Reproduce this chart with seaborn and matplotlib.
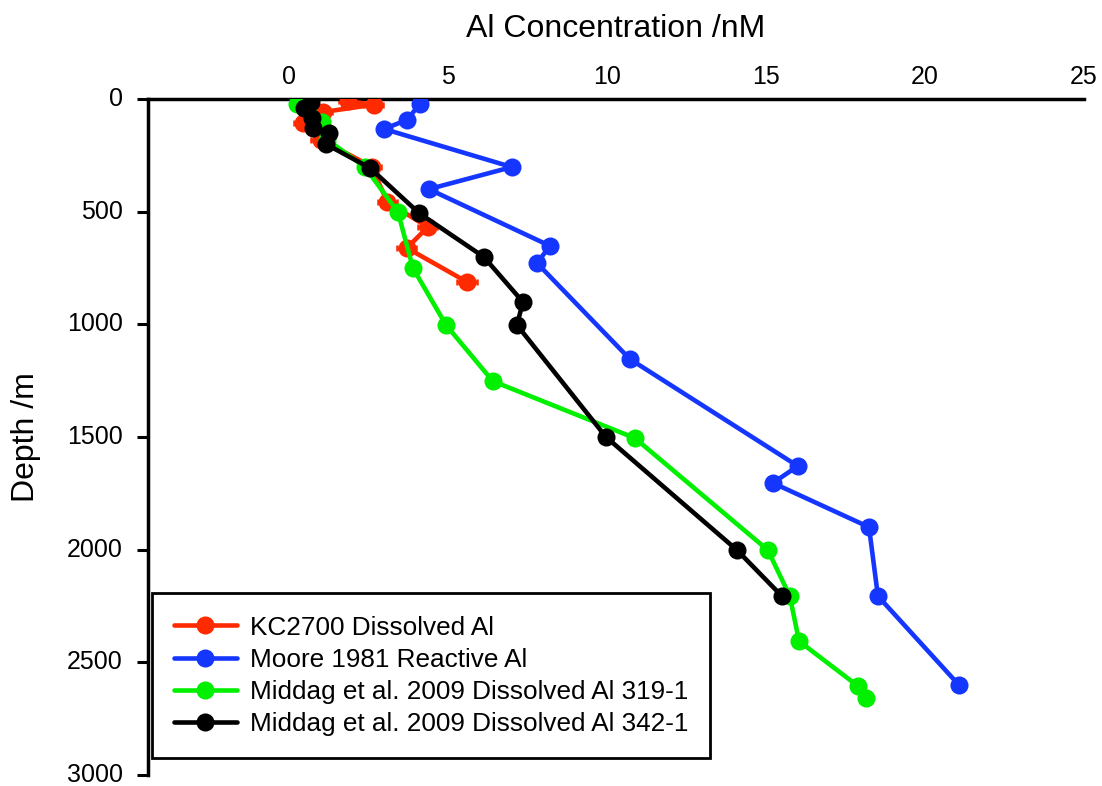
import matplotlib
matplotlib.use("Agg")
import matplotlib.pyplot as plt
import seaborn as sns
import pandas as pd
import numpy as np
from matplotlib.lines import Line2D

# ---- data ----
kc_conc = [1.86, 2.67, 1.07, 0.45, 1.0, 2.6, 3.1, 4.37, 3.71, 5.6]
kc_depth = [10, 25, 58, 107, 180, 300, 458, 568, 661, 812]
kc_err = [0.3, 0.3, 0.3, 0.3, 0.3, 0.3, 0.3, 0.3, 0.3, 0.3]

moore_conc = [4.12, 3.71, 2.99, 7.01, 4.40, 8.21, 7.80, 10.72, 16.0, 15.22, 18.24, 18.52, 21.07]
moore_depth = [22, 93, 133, 302, 400, 652, 728, 1154, 1629, 1704, 1900, 2206, 2601]

m319_conc = [0.25, 0.6, 1.05, 1.2, 2.39, 3.43, 3.9, 4.94, 6.41, 10.88, 15.06, 15.75, 16.04, 17.89, 18.14]
m319_depth = [20, 50, 100, 180, 302, 502, 750, 1003, 1252, 1505, 2002, 2206, 2406, 2605, 2659]

m342_conc = [0.69, 0.47, 0.72, 0.75, 1.26, 1.16, 2.55, 4.09, 6.13, 7.36, 7.17, 9.97, 14.09, 15.5]
m342_depth = [13, 40, 85, 130, 150, 200, 306, 506, 701, 901, 1003, 1500, 2002, 2206]

labels = ["KC2700 Dissolved Al", "Moore 1981 Reactive Al",
          "Middag et al. 2009 Dissolved Al 319-1", "Middag et al. 2009 Dissolved Al 342-1"]
colors = ["#FF2A00", "#1436FF", "#00F000", "#000000"]

xticks = [0, 5, 10, 15, 20, 25]
yticks = [0, 500, 1000, 1500, 2000, 2500, 3000]

rows = []
for lab, cs, ds in zip(labels, [kc_conc, moore_conc, m319_conc, m342_conc],
                       [kc_depth, moore_depth, m319_depth, m342_depth]):
    for i, (c, d) in enumerate(zip(cs, ds)):
        rows.append({"series": lab, "conc": c, "depth": d, "order": i})
df = pd.DataFrame(rows)

sns.set_style("white")
plt.rcParams['font.family'] = ['Liberation Sans', 'DejaVu Sans']
plt.rcParams['text.color'] = 'black'
plt.rcParams['axes.labelcolor'] = 'black'
plt.rcParams['xtick.color'] = 'black'
plt.rcParams['ytick.color'] = 'black'

LW = 3.3
MS = 13

fig = plt.figure(figsize=(11.02, 7.86), dpi=100)
ax = fig.add_axes([148/1102, 1 - 775/786, (1084-148)/1102, (775-99)/786])

# error bars for KC2700
ax.errorbar(kc_conc, kc_depth, xerr=kc_err, fmt='none', ecolor=colors[0],
            elinewidth=1.8, capsize=2, capthick=1.8, zorder=2)

sns.lineplot(data=df, x="conc", y="depth", hue="series", hue_order=labels,
             palette=dict(zip(labels, colors)), sort=False, estimator=None,
             units="series", marker="o", markersize=MS, markeredgewidth=0,
             linewidth=LW, ax=ax, legend=False, zorder=3)

ax.set_xlim(-4.43, 25)
ax.set_ylim(3000, 0)
ax.set_xticks(xticks)
ax.set_yticks(yticks)
ax.set_xticks([25], minor=True)
ax.xaxis.set_ticks_position('top')
ax.xaxis.set_label_position('top')
ax.tick_params(axis='x', which='major', length=0, pad=7.5, labelsize=18)
ax.tick_params(axis='x', which='minor', length=8, width=2.2, direction='in', top=True)
ax.tick_params(axis='y', length=8, width=2.2, direction='out', pad=10, labelsize=18, left=True)
for lbl in ax.get_yticklabels():
    lbl.set_verticalalignment('center')
for s in ['right', 'bottom']:
    ax.spines[s].set_visible(False)
for s in ['left', 'top']:
    ax.spines[s].set_visible(True)
    ax.spines[s].set_linewidth(2.5)
    ax.spines[s].set_color('black')
ax.set_xlabel("Al Concentration /nM", fontsize=23, labelpad=20)
ax.set_ylabel("Depth /m", fontsize=23, labelpad=19)

handles = [Line2D([0], [0], color=c, lw=LW, marker='o', markersize=MS, markeredgewidth=0)
           for c in colors]
leg = ax.legend(handles, labels, loc='lower left', bbox_to_anchor=(0.004, 0.025),
                fontsize=18.8, frameon=True, fancybox=False, edgecolor='black',
                framealpha=1, handlelength=2.4, borderpad=0.85, labelspacing=0.31,
                handletextpad=0.5, borderaxespad=0)
leg.get_frame().set_linewidth(2.0)

fig.savefig("out.png", dpi=100)
